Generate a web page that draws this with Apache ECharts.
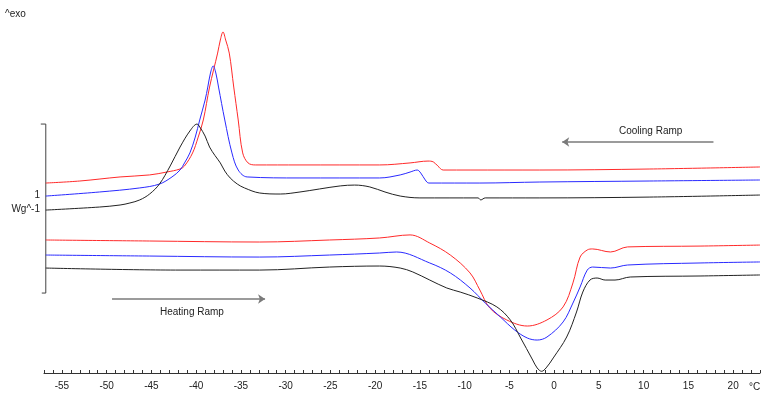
<!DOCTYPE html>
<html>
<head>
<meta charset="utf-8">
<script src="https://cdn.jsdelivr.net/npm/echarts@6/dist/echarts.min.js"></script>
<style>
  html, body { margin: 0; padding: 0; background: #fff; }
  #chart { width: 773px; height: 399px; }
</style>
</head>
<body>
<div id="chart"></div>
<script>
// temperature in °C, heat flow in W/g (offset per curve)
// cooling ramp (upper set)
const coolRedT = [-56.8, -53.0, -48.5, -45.2, -43.3, -41.8, -41.3, -40.4, -39.8, -39.2, -38.5, -37.6, -37.3, -37.0, -36.7, -36.3, -35.8, -35.3, -34.8, -34.2, -33.4, -28.4, -19.5, -16.1, -14.1, -13.5, -13.0, -12.4, -9.4, -1.6, 10.7, 23.0]
const coolRedW = [1.124, 1.136, 1.160, 1.172, 1.189, 1.207, 1.225, 1.302, 1.391, 1.497, 1.692, 1.893, 1.970, 2.018, 1.970, 1.893, 1.692, 1.497, 1.302, 1.243, 1.231, 1.231, 1.231, 1.243, 1.254, 1.249, 1.225, 1.201, 1.201, 1.201, 1.207, 1.219]

const coolBlueT = [-56.8, -50.8, -46.3, -44.1, -42.7, -41.8, -41.3, -40.7, -40.1, -39.6, -39.0, -38.7, -38.4, -38.1, -37.8, -37.5, -36.8, -36.0, -35.3, -34.3, -28.4, -19.5, -17.2, -16.1, -15.3, -14.9, -14.4, -14.0, -8.3, -1.6, 10.7, 23.0]
const coolBlueW = [1.047, 1.071, 1.095, 1.118, 1.160, 1.201, 1.243, 1.302, 1.396, 1.497, 1.615, 1.692, 1.775, 1.817, 1.775, 1.692, 1.497, 1.302, 1.201, 1.160, 1.154, 1.154, 1.172, 1.189, 1.201, 1.183, 1.142, 1.124, 1.124, 1.130, 1.136, 1.142]

const coolBlackT = [-56.8, -50.8, -48.5, -47.4, -46.3, -45.2, -44.1, -42.9, -41.8, -40.7, -39.9, -39.6, -39.0, -38.5, -37.9, -37.3, -36.8, -36.2, -35.4, -34.6, -32.9, -30.6, -28.4, -26.2, -23.9, -22.3, -20.6, -18.9, -17.2, -15.0, -8.5, -8.2, -7.7, -1.6, 10.7, 23.0]
const coolBlackW = [0.964, 0.982, 0.994, 1.006, 1.024, 1.059, 1.118, 1.225, 1.337, 1.432, 1.473, 1.456, 1.402, 1.337, 1.287, 1.243, 1.195, 1.154, 1.118, 1.095, 1.065, 1.059, 1.071, 1.089, 1.107, 1.112, 1.101, 1.071, 1.047, 1.036, 1.036, 1.024, 1.036, 1.036, 1.041, 1.053]

// heating ramp (lower set)
const heatRedT = [-56.8, -45.2, -32.9, -25.1, -19.5, -16.1, -13.9, -11.6, -9.4, -8.3, -7.2, -5.3, -3.0, -0.8, 1.0, 2.1, 2.9, 3.7, 4.3, 6.3, 8.2, 16.3, 23.0]
const heatRedW = [0.787, 0.781, 0.775, 0.787, 0.799, 0.817, 0.769, 0.698, 0.592, 0.491, 0.385, 0.314, 0.278, 0.314, 0.391, 0.533, 0.686, 0.728, 0.734, 0.716, 0.746, 0.751, 0.757]

const heatBlueT = [-56.8, -45.2, -32.9, -25.1, -19.5, -17.6, -13.9, -11.6, -9.4, -7.7, -6.0, -4.4, -3.0, -1.9, -0.8, 1.0, 2.1, 2.9, 3.7, 4.3, 6.3, 8.2, 16.3, 23.0]
const heatBlueW = [0.698, 0.692, 0.686, 0.698, 0.710, 0.716, 0.651, 0.592, 0.503, 0.414, 0.331, 0.254, 0.207, 0.195, 0.213, 0.302, 0.414, 0.509, 0.609, 0.627, 0.621, 0.639, 0.651, 0.657]

const heatBlackT = [-56.8, -41.8, -32.9, -25.1, -19.5, -17.2, -15.8, -13.9, -12.0, -10.5, -8.6, -6.4, -4.9, -3.8, -2.4, -1.9, -1.4, -0.9, -0.1, 1.4, 2.5, 3.2, 4.0, 4.8, 5.7, 6.8, 8.5, 16.3, 23.0]
const heatBlackW = [0.621, 0.609, 0.609, 0.627, 0.633, 0.621, 0.598, 0.550, 0.503, 0.479, 0.444, 0.391, 0.314, 0.213, 0.077, 0.030, 0.010, 0.030, 0.089, 0.213, 0.361, 0.479, 0.550, 0.562, 0.550, 0.550, 0.568, 0.574, 0.580]

// scale bar: 1 W/g
const scaleBarT = -56.8
const scaleBarW = [0.473, 1.473]

// ramp arrows [fromT, toT, W]
const coolArrow = [17.8, 0.9, 1.367]
const heatArrow = [-49.4, -32.3, 0.438]

const pair = (t, w) => t.map((v, i) => [v, w[i]])

const chart = echarts.init(document.getElementById('chart'))

const FONT = "'Liberation Sans', Arial, sans-serif"
const curve = (name, t, w, color) => ({
  name,
  type: 'line',
  data: pair(t, w),
  showSymbol: false,
  smooth: 0.35,
  lineStyle: { color, width: 1 },
  z: 3
})

const option = {
  animation: false,
  backgroundColor: '#fff',
  grid: { left: 44, right: 13, top: 0, bottom: 26 },
  xAxis: {
    type: 'value',
    min: -57,
    max: 23,
    interval: 1,
    axisLine: { show: true, lineStyle: { color: '#333', width: 1 } },
    axisTick: { show: true, inside: true, length: 3, lineStyle: { color: '#333' } },
    axisLabel: {
      interval: 0,
      margin: 8,
      color: '#222',
      fontFamily: FONT,
      fontSize: 10,
      formatter: (v) => (v % 5 === 0 ? String(v) : '')
    },
    splitLine: { show: false }
  },
  yAxis: {
    type: 'value',
    show: false,
    min: 0,
    max: 2.207,
    splitLine: { show: false }
  },
  graphic: [
    { type: 'text', left: 5, top: 9, style: { text: '^exo', font: '10px ' + FONT, fill: '#222' } },
    { type: 'text', right: 773 - 40, top: 190, style: { text: '1', font: '10px ' + FONT, fill: '#222', textAlign: 'right' } },
    { type: 'text', right: 773 - 40, top: 204, style: { text: 'Wg^-1', font: '10px ' + FONT, fill: '#222', textAlign: 'right' } },
    { type: 'text', left: 749, top: 382, style: { text: '°C', font: '10px ' + FONT, fill: '#222' } },
    { type: 'text', left: 619, top: 126, style: { text: 'Cooling Ramp', font: '10px ' + FONT, fill: '#222' } },
    { type: 'text', left: 160, top: 307, style: { text: 'Heating Ramp', font: '10px ' + FONT, fill: '#222' } }
  ],
  series: [
    curve('cool red', coolRedT, coolRedW, '#ff2a2a'),
    curve('cool blue', coolBlueT, coolBlueW, '#2a2aff'),
    curve('cool black', coolBlackT, coolBlackW, '#222'),
    curve('heat red', heatRedT, heatRedW, '#ff2a2a'),
    curve('heat blue', heatBlueT, heatBlueW, '#2a2aff'),
    curve('heat black', heatBlackT, heatBlackW, '#222'),
    {
      type: 'custom',
      clip: false,
      data: [[scaleBarT, scaleBarW[0], scaleBarW[1]]],
      renderItem: (params, api) => {
        const bot = api.coord([api.value(0), api.value(1)])
        const top = api.coord([api.value(0), api.value(2)])
        const st = { stroke: '#444', lineWidth: 1 }
        return {
          type: 'group',
          children: [
            { type: 'line', shape: { x1: top[0], y1: top[1], x2: bot[0], y2: bot[1] }, style: st },
            { type: 'line', shape: { x1: top[0] - 5, y1: top[1], x2: top[0], y2: top[1] }, style: st },
            { type: 'line', shape: { x1: bot[0] - 4, y1: bot[1], x2: bot[0], y2: bot[1] }, style: st }
          ]
        }
      }
    },
    {
      type: 'lines',
      coordinateSystem: 'cartesian2d',
      symbol: ['none', 'arrow'],
      symbolSize: 7,
      lineStyle: { color: '#7a7a7a', width: 1.5, opacity: 1 },
      data: [
        { coords: [[coolArrow[0], coolArrow[2]], [coolArrow[1], coolArrow[2]]] },
        { coords: [[heatArrow[0], heatArrow[2]], [heatArrow[1], heatArrow[2]]] }
      ]
    }
  ]
}

chart.setOption(option)
window.addEventListener('resize', () => chart.resize())
</script>
</body>
</html>
